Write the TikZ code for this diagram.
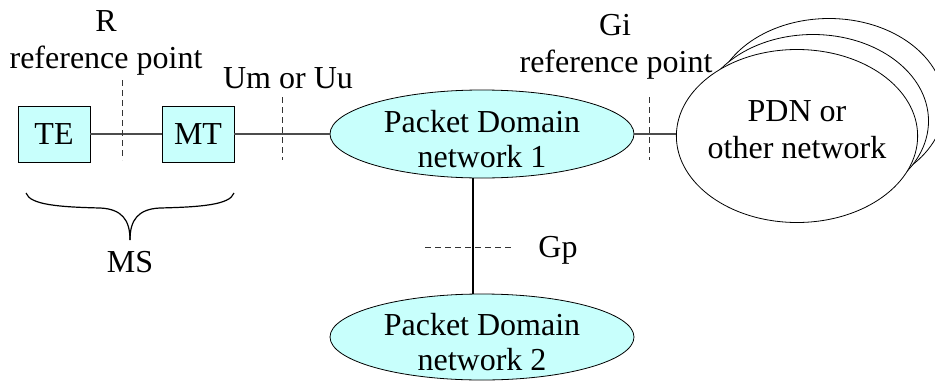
\documentclass[tikz,border=0pt]{standalone}
\usepackage{fontspec}
\setmainfont{Liberation Serif}
\usetikzlibrary{shapes.geometric}
\definecolor{netcyan}{RGB}{200,255,252}

\begin{document}
\begin{tikzpicture}[x=0.5pt,y=-0.5pt,font=\fontsize{16}{17.5}\selectfont]
    \tikzstyle{box}=[rectangle,draw=black,fill=netcyan,minimum width=36pt,minimum height=28pt,inner sep=0pt]
    \tikzstyle{net}=[ellipse,draw=black,fill=netcyan,minimum width=152pt,minimum height=44pt,inner sep=-4pt,text height=34pt,align=center]
    \tikzstyle{pdnet}=[ellipse,draw=black,fill=white,minimum width=115.5pt,minimum height=86.5pt,inner sep=-2pt,align=center]
    \tikzstyle{link}=[draw=black!70,line width=1pt]
    \tikzstyle{refline}=[draw=black!80,dash pattern=on 3pt off 2pt,line width=0.5pt]
    \tikzstyle{lbl}=[anchor=base,inner sep=0pt]
    \useasboundingbox (0,0) rectangle (935,380);

    \foreach \name/\x in {TE/54, MT/198}
        \node[box] (\name) at (\x,134) {\name};

    \node[net] (pdn1) at (482,134) {Packet Domain\\network 1};
    \node[net,minimum height=43pt] (pdn2) at (482,337) {Packet Domain\\network 2};

    % stacked external networks, back to front
    \node[pdnet] (pdn-back2) at (829,105) {};
    \node[pdnet] (pdn-back1) at (813,121) {};
    \node[pdnet,text depth=6pt] (pdn) at (797,136) {PDN or\\[1pt]other network};

    \draw[link] (TE) -- (MT);
    \draw[link] (MT) -- (pdn1);
    \draw[link] (pdn1.east) -- (pdn1.east -| pdn.west);
    \draw[draw=black,line width=0.6pt] ([xshift=-4.5pt]pdn1.south) -- ([xshift=-4.5pt]pdn2.north);

    % reference points
    \foreach \nm/\x/\ya in {R/122/80, Um/282/97, Gi/649/97} {
        \coordinate (\nm-top) at (\x,\ya);
        \coordinate (\nm-bot) at (\x,160);
        \draw[refline] (\nm-top) -- (\nm-bot);
    }
    \coordinate (Gp-left) at (425,247);
    \coordinate (Gp-right) at (513,247);
    \draw[refline] (Gp-left) -- (Gp-right);

    \node[lbl] (R) at (106,32) {R};
    \node[lbl] (R-ref) at (106,68) {reference point};
    \node[lbl] (Um) at (288,88) {Um or Uu};
    \node[lbl] (Gi) at (615,35) {Gi};
    \node[lbl] (Gi-ref) at (616,72) {reference point};
    \node[lbl] (Gp) at (558,257) {Gp};

    % brace under the MS
    \draw[line width=0.6pt] (26,193) .. controls (30,205) and (60,207) .. (100,208)
        .. controls (122,209) and (130,220) .. (130,240);
    \draw[line width=0.6pt] (234,193) .. controls (230,205) and (200,207) .. (160,208)
        .. controls (138,209) and (130,220) .. (130,240);
    \node[lbl] (MS) at (130,272) {MS};
\end{tikzpicture}
\end{document}
